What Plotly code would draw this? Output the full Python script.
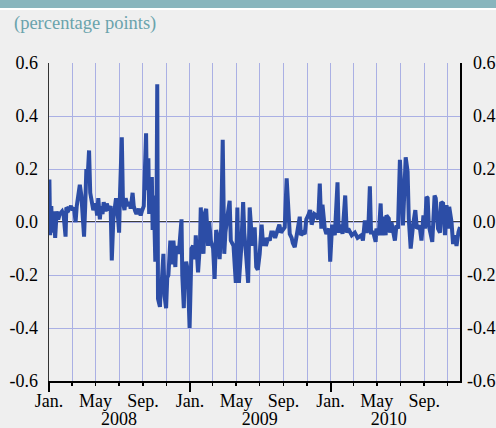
import plotly.graph_objects as go

dates = [
    "2008-01-02", "2008-01-04", "2008-01-07", "2008-01-09", "2008-01-14", "2008-01-17", "2008-01-21",
    "2008-01-25", "2008-01-29", "2008-02-04", "2008-02-08", "2008-02-13", "2008-02-15", "2008-02-21",
    "2008-02-27", "2008-03-03", "2008-03-06", "2008-03-10", "2008-03-13", "2008-03-17", "2008-03-21",
    "2008-03-25", "2008-03-28", "2008-04-01", "2008-04-04", "2008-04-07", "2008-04-10", "2008-04-14",
    "2008-04-17", "2008-04-22", "2008-04-25", "2008-05-01", "2008-05-05", "2008-05-08", "2008-05-12",
    "2008-05-15", "2008-05-19", "2008-05-22", "2008-05-27", "2008-05-30", "2008-06-04", "2008-06-09",
    "2008-06-12", "2008-06-16", "2008-06-19", "2008-06-23", "2008-06-27", "2008-07-01", "2008-07-03",
    "2008-07-08", "2008-07-11", "2008-07-15", "2008-07-18", "2008-07-23", "2008-07-28", "2008-07-31",
    "2008-08-05", "2008-08-08", "2008-08-12", "2008-08-15", "2008-08-21", "2008-08-26", "2008-08-29",
    "2008-09-03", "2008-09-09", "2008-09-11", "2008-09-15", "2008-09-17", "2008-09-19", "2008-09-22",
    "2008-09-24", "2008-09-26", "2008-09-29", "2008-10-03", "2008-10-06", "2008-10-08", "2008-10-10",
    "2008-10-13", "2008-10-15", "2008-10-17", "2008-10-20", "2008-10-24", "2008-10-27", "2008-10-31",
    "2008-11-03", "2008-11-06", "2008-11-11", "2008-11-14", "2008-11-19", "2008-11-24", "2008-11-26",
    "2008-12-01", "2008-12-04", "2008-12-10", "2008-12-12", "2008-12-16", "2008-12-18", "2008-12-22",
    "2008-12-26", "2008-12-31",
    "2009-01-05", "2009-01-09", "2009-01-14", "2009-01-16", "2009-01-22", "2009-01-27", "2009-01-29",
    "2009-02-02", "2009-02-05", "2009-02-09", "2009-02-12", "2009-02-17", "2009-02-20", "2009-02-24",
    "2009-03-02", "2009-03-06", "2009-03-10", "2009-03-13", "2009-03-19", "2009-03-23", "2009-03-27",
    "2009-03-31", "2009-04-03", "2009-04-10", "2009-04-14", "2009-04-17", "2009-04-24", "2009-04-30",
    "2009-05-04", "2009-05-08", "2009-05-14", "2009-05-19", "2009-05-22", "2009-05-27", "2009-06-01",
    "2009-06-05", "2009-06-12", "2009-06-18", "2009-06-22", "2009-06-26", "2009-06-29", "2009-07-01",
    "2009-07-06", "2009-07-10", "2009-07-14", "2009-07-17", "2009-07-23", "2009-07-27", "2009-07-31",
    "2009-08-05", "2009-08-10", "2009-08-14", "2009-08-21", "2009-08-25", "2009-08-31", "2009-09-04",
    "2009-09-09", "2009-09-14", "2009-09-17", "2009-09-22", "2009-09-25", "2009-09-30", "2009-10-05",
    "2009-10-13", "2009-10-16", "2009-10-22", "2009-10-26", "2009-10-30", "2009-11-04", "2009-11-09",
    "2009-11-13", "2009-11-17", "2009-11-20", "2009-11-25", "2009-11-30", "2009-12-04", "2009-12-08",
    "2009-12-11", "2009-12-17", "2009-12-21", "2009-12-28", "2009-12-31",
    "2010-01-05", "2010-01-12", "2010-01-19", "2010-01-22", "2010-01-27", "2010-02-01", "2010-02-08",
    "2010-02-12", "2010-02-16", "2010-02-25", "2010-03-05", "2010-03-12", "2010-03-22", "2010-03-26",
    "2010-03-31", "2010-04-05", "2010-04-09", "2010-04-13", "2010-04-16", "2010-04-22", "2010-04-28",
    "2010-04-30", "2010-05-06", "2010-05-11", "2010-05-14", "2010-05-20", "2010-05-24", "2010-05-26",
    "2010-06-01", "2010-06-04", "2010-06-08", "2010-06-11", "2010-06-17", "2010-06-21", "2010-06-25",
    "2010-06-30", "2010-07-02", "2010-07-08", "2010-07-15", "2010-07-20", "2010-07-23", "2010-07-28",
    "2010-08-03", "2010-08-09", "2010-08-13", "2010-08-20", "2010-08-25", "2010-08-30", "2010-09-03",
    "2010-09-07", "2010-09-10", "2010-09-13", "2010-09-17", "2010-09-22", "2010-09-28", "2010-10-01",
    "2010-10-07", "2010-10-12", "2010-10-15", "2010-10-20", "2010-10-25", "2010-10-29", "2010-11-02",
    "2010-11-05", "2010-11-11", "2010-11-15", "2010-11-19", "2010-11-24", "2010-11-29", "2010-12-03",
]

values = [
    0.16, -0.05, 0.06, -0.04, 0.04, -0.06, 0.04,
    0.01, 0.03, 0.04, 0.025, -0.055, 0.055, 0.045,
    0.06, 0.045, 0.055, 0.0, 0.06, 0.09, 0.14,
    0.10, 0.04, -0.055, 0.06, 0.20, 0.16, 0.27,
    0.11, 0.06, 0.045, 0.07, 0.025, 0.09, 0.01,
    0.06, 0.03, 0.075, 0.04, 0.07, 0.045, 0.06,
    -0.145, 0.01, 0.05, 0.09, 0.04, -0.04, 0.09,
    0.32, 0.075, 0.045, 0.09, 0.06, 0.075, 0.05,
    0.11, 0.06, 0.04, 0.03, 0.05, 0.025, 0.04,
    0.06, 0.335, 0.12, 0.24, 0.03, 0.15, 0.06,
    0.17, -0.03, 0.10, -0.15, -0.02, 0.52, -0.29,
    -0.31, -0.32, -0.25, -0.22, -0.12, -0.28, -0.325,
    -0.21, -0.20, -0.07, -0.16, -0.07, -0.17, -0.09,
    -0.12, -0.10, 0.01, -0.20, -0.325, -0.20, -0.15,
    -0.18, -0.40,
    -0.10, -0.09, -0.14, -0.05, -0.19, -0.08, 0.055,
    -0.06, -0.12, 0.035, 0.05, -0.09, 0.0, -0.07,
    -0.10, -0.215, -0.03, -0.05, -0.14, -0.02, 0.31,
    -0.12, -0.04, 0.04, 0.08, -0.07, -0.09, -0.23,
    0.055, -0.23, -0.10, 0.075, -0.04, -0.13, -0.23,
    0.055, -0.09, -0.02, -0.17, -0.18, -0.14, -0.12,
    -0.01, -0.09, -0.06, -0.09, -0.06, -0.07, -0.04,
    -0.04, -0.06, -0.04, -0.01, -0.04, -0.03, -0.02,
    0.165, -0.025, -0.045, -0.06, -0.08, -0.095, -0.05,
    0.02, -0.05, -0.04, -0.045, 0.01, 0.025, 0.045,
    -0.01, 0.025, 0.03, 0.025, 0.01, 0.145, -0.025,
    0.065, -0.025, -0.045, -0.025, -0.15,
    -0.01, -0.05, 0.15, -0.04, -0.01, -0.045, 0.10,
    -0.04, -0.025, -0.05, -0.04, -0.06, -0.05, -0.07,
    0.006, -0.04, -0.025, 0.135, -0.04, -0.04, -0.075,
    -0.025, -0.05, 0.07, -0.05, 0.02, -0.05, 0.025,
    0.013, -0.04, 0.0, -0.025, -0.07, -0.013, -0.025,
    0.235, 0.15, -0.013, 0.244, 0.19, 0.013, -0.10,
    -0.013, 0.045, -0.025, -0.013, -0.07, 0.025, -0.025,
    0.095, 0.09, -0.013, -0.04, -0.075, 0.10, 0.09,
    -0.025, -0.04, 0.075, 0.07, -0.05, 0.064, -0.025,
    0.057, 0.0, -0.083, -0.05, -0.09, -0.038, -0.019,
]

x_range = ["2008-01-01", "2010-12-03"]
month_tick_dates = ["2008-01-01", "2008-05-01", "2008-09-01",
                    "2009-01-01", "2009-05-01", "2009-09-01",
                    "2010-01-01", "2010-05-01", "2010-09-01"]
month_tick_labels = ["Jan.", "May", "Sep."] * 3
year_tick_dates = ["2008-07-01", "2009-07-01", "2010-06-01"]
year_tick_labels = ["2008", "2009", "2010"]
jan_tick_dates = ["2008-01-01", "2009-01-01", "2010-01-01"]
y_tick_vals = [-0.6, -0.4, -0.2, 0.0, 0.2, 0.4, 0.6]
y_tick_left = ["-0.6", "-0.4", "-0.2", "0.0", "0.2", "0.4", "0.6"]
y_tick_right = ["-0.6", "-0.4", "-0.2", "\u20040.0", "\u20040.2", "\u20040.4", "\u20040.6"]

BG = "#efefef"
GRID = "#aab0e4"
LINE = "#2c4da6"
FONT = "Liberation Serif, Times New Roman, serif"

fig = go.Figure()
fig.add_trace(go.Scatter(x=dates, y=values, mode="lines",
                         line=dict(color=LINE, width=4), showlegend=False,
                         hoverinfo="skip"))
# helper traces so overlay axes get drawn
for xa, ya in [("x2", "y"), ("x3", "y"), ("x", "y2")]:
    fig.add_trace(go.Scatter(x=[dates[0]], y=[values[0]], xaxis=xa, yaxis=ya,
                             mode="lines", line=dict(width=0), showlegend=False,
                             hoverinfo="skip"))

axis_font = dict(family=FONT, size=18, color="black")

fig.update_layout(
    width=496, height=428,
    margin=dict(l=49, r=36, t=63, b=47, autoexpand=False),
    paper_bgcolor=BG, plot_bgcolor=BG,
    font=axis_font,
    xaxis=dict(range=x_range, type="date", tickmode="array", automargin=False,
               tickvals=month_tick_dates, ticktext=month_tick_labels,
               ticks="outside", ticklen=3, tickwidth=1.5, tickcolor="black",
               showgrid=True, gridcolor=GRID, gridwidth=1,
               showline=True, linecolor="black", linewidth=1.5,
               zeroline=False, tickfont=axis_font, ticklabelstandoff=0,
               minor=dict(dtick="M2", tick0="2008-01-01", ticks="outside",
                          ticklen=3, tickwidth=1.5, tickcolor="black",
                          showgrid=True, gridcolor=GRID, gridwidth=1)),
    xaxis2=dict(range=x_range, type="date", overlaying="x", anchor="y", side="bottom",
                automargin=False,
                tickmode="array", tickvals=jan_tick_dates, showticklabels=False,
                ticks="outside", ticklen=10, tickwidth=2, tickcolor="black",
                showgrid=False, zeroline=False, showline=False),
    xaxis3=dict(range=x_range, type="date", overlaying="x", anchor="y", side="bottom",
                automargin=False,
                tickmode="array", tickvals=year_tick_dates, ticktext=year_tick_labels,
                ticks="", showgrid=False, zeroline=False, showline=False,
                tickfont=axis_font, ticklabelstandoff=25),
    yaxis=dict(range=[-0.6, 0.6], tickmode="array", tickvals=y_tick_vals, automargin=False,
               ticktext=y_tick_left, ticks="", showgrid=True, gridcolor=GRID,
               gridwidth=1, zeroline=False, showline=True, linecolor="#333333",
               linewidth=1.5, tickfont=axis_font, ticklabelstandoff=6),
    yaxis2=dict(range=[-0.6, 0.6], overlaying="y", side="right", anchor="x",
                automargin=False,
                tickmode="array", tickvals=y_tick_vals, ticktext=y_tick_right,
                ticks="", showgrid=False, zeroline=False, showline=True,
                linecolor="black", linewidth=1.5, tickfont=axis_font,
                ticklabelstandoff=2),
    shapes=[
        dict(type="line", xref="paper", yref="y", x0=0, x1=1, y0=0.005, y1=0.005,
             line=dict(color="white", width=1.5), layer="between"),
        dict(type="line", xref="paper", yref="y", x0=0, x1=1, y0=0, y1=0,
             line=dict(color="black", width=1.5), layer="between"),
        dict(type="rect", xref="paper", yref="paper", xsizemode="pixel", ysizemode="pixel",
             xanchor=0, yanchor=1, x0=-60, x1=460, y0=55, y1=70,
             fillcolor="#88b5bd", line=dict(width=0), layer="above"),
        dict(type="rect", xref="paper", yref="paper", xsizemode="pixel", ysizemode="pixel",
             xanchor=0, yanchor=1, x0=-60, x1=460, y0=53, y1=55,
             fillcolor="white", line=dict(width=0), layer="above"),
    ],
    annotations=[
        dict(text="(percentage points)", xref="paper", yref="paper", x=0, y=1,
             xanchor="left", yanchor="middle", xshift=-37, yshift=40, showarrow=False,
             font=dict(family=FONT, size=18.5, color="#6aa3ac")),
    ],
)

fig.write_html("out.html",
               config={"displayModeBar": False, "staticPlot": True},
               post_script="document.body.style.margin='0';"
                           "document.body.style.background='#efefef';")
